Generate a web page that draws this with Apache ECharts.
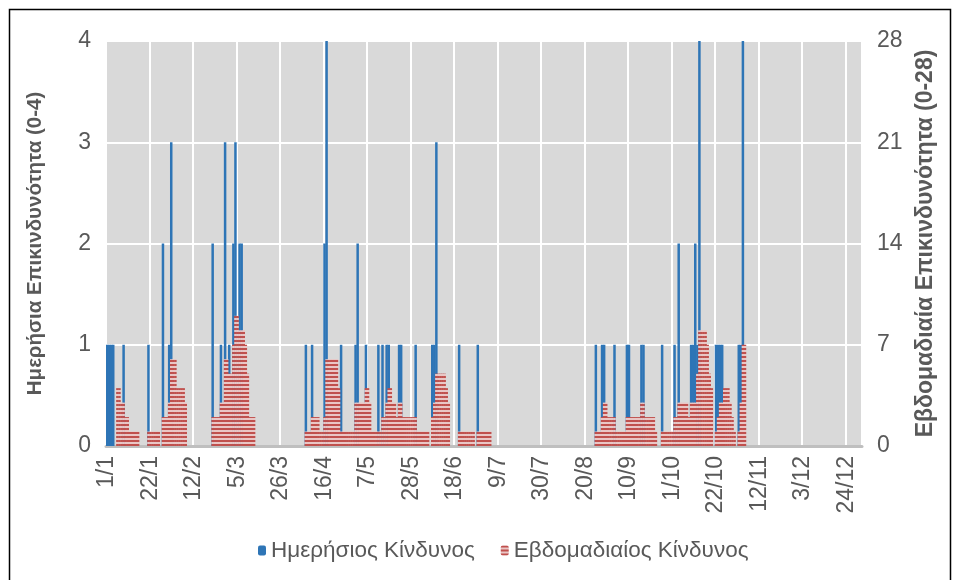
<!DOCTYPE html>
<html>
<head>
<meta charset="utf-8">
<script src="https://cdn.jsdelivr.net/npm/echarts@6/dist/echarts.min.js"></script>
<style>
html,body{margin:0;padding:0;background:#fff;}
#c{width:954px;height:580px;}
</style>
</head>
<body>
<div id="c"></div>
<script>
// Category axis: days of a non-leap year, labelled d/m
const monthLengths = [31,28,31,30,31,30,31,31,30,31,30,31];
const days = [];
monthLengths.forEach(function(n, m){ for (let d = 1; d <= n; d++) days.push(d + '/' + (m + 1)); });

const seriesNames = ['Ημερήσιος Κίνδυνος', 'Εβδομαδιαίος Κίνδυνος'];
const axisTitles = ['Ημερήσια Επικινδυνότητα (0-4)', 'Εβδομαδιαία Επικινδυνότητα (0-28)'];

// Daily risk (0-4), one value per day, 1/1 .. 31/12
const daily = [
1,1,1,1,0,0,0,0,1,0,  0,0,0,0,0,0,0,0,0,0,  1,0,0,0,0,0,0,2,0,0,  1,3,0,0,0,0,0,0,0,0,
0,0,0,0,0,0,0,0,0,0,  0,2,0,0,0,1,0,3,0,1,  0,2,3,0,2,2,0,0,0,0,  0,0,0,0,0,0,0,0,0,0,
0,0,0,0,0,0,0,0,0,0,  0,0,0,0,0,0,1,0,0,1,  0,0,0,0,0,2,4,0,0,0,  0,0,0,1,0,0,0,0,0,0,
1,2,0,0,0,1,0,0,0,0,  0,1,0,1,0,1,1,0,0,0,  0,1,1,0,0,0,0,0,0,1,  0,0,0,0,0,0,0,1,1,3,
0,0,0,0,0,0,0,0,0,0,  1,0,0,0,0,0,0,0,0,1,  0,0,0,0,0,0,0,0,0,0,  0,0,0,0,0,0,0,0,0,0,
0,0,0,0,0,0,0,0,0,0,  0,0,0,0,0,0,0,0,0,0,  0,0,0,0,0,0,0,0,0,0,  0,0,0,0,0,0,1,0,0,1,
1,0,0,0,0,1,0,0,0,0,  0,1,1,0,0,0,0,0,1,1,  0,0,0,0,0,0,0,0,1,0,  0,0,0,0,1,0,2,0,0,0,
0,0,1,1,2,1,4,0,0,0,  0,0,0,0,1,1,1,1,0,0,  0,0,0,0,0,1,1,4,0,0,  0,0,0,0,0,0,0,0,0,0,
0,0,0,0,0,0,0,0,0,0,  0,0,0,0,0,0,0,0,0,0,  0,0,0,0,0,0,0,0,0,0,  0,0,0,0,0,0,0,0,0,0,
0,0,0,0,0,0,0,0,0,0,  0,0,0,0,0,0,0,0,0,0,  0,0,0,0,0
];

// Weekly risk (0-28), one value per day
const weekly = [
0,0,0,0,0,4,4,3,3,2,  2,1,1,1,1,1,0,0,0,0,  1,1,1,1,1,1,0,2,2,2,  3,6,6,6,4,4,4,4,3,0,
0,0,0,0,0,0,0,0,0,0,  0,2,2,2,2,3,3,6,6,5,  5,7,9,9,8,8,8,7,5,2,  2,2,0,0,0,0,0,0,0,0,
0,0,0,0,0,0,0,0,0,0,  0,0,0,0,0,0,1,1,1,2,  2,2,2,1,1,2,6,6,6,6,  6,6,4,1,1,1,1,1,1,1,
3,3,3,3,3,4,4,3,1,1,  1,1,1,2,2,3,4,4,3,3,  2,3,3,2,2,2,2,2,2,2,  1,1,1,1,1,1,0,2,3,5,
5,5,5,5,4,3,0,0,0,0,  1,1,1,1,1,1,1,1,0,1,  1,1,1,1,1,1,0,0,0,0,  0,0,0,0,0,0,0,0,0,0,
0,0,0,0,0,0,0,0,0,0,  0,0,0,0,0,0,0,0,0,0,  0,0,0,0,0,0,0,0,0,0,  0,0,0,0,0,0,1,1,1,2,
3,3,2,2,2,2,1,1,1,1,  1,2,2,2,2,2,2,2,3,3,  2,2,2,2,2,1,0,0,1,1,  1,1,1,1,2,2,3,3,3,3,
3,2,3,3,3,5,8,8,8,8,  7,5,4,0,1,2,3,3,4,4,  4,3,2,1,0,1,3,7,7,0,  0,0,0,0,0,0,0,0,0,0,
0,0,0,0,0,0,0,0,0,0,  0,0,0,0,0,0,0,0,0,0,  0,0,0,0,0,0,0,0,0,0,  0,0,0,0,0,0,0,0,0,0,
0,0,0,0,0,0,0,0,0,0,  0,0,0,0,0,0,0,0,0,0,  0,0,0,0,0
];

// horizontal stripe pattern for the weekly series
const stripe = document.createElement('canvas');
stripe.width = 8; stripe.height = 4;
const sctx = stripe.getContext('2d');
sctx.fillStyle = '#eac6c5'; sctx.fillRect(0, 0, 8, 4);
sctx.fillStyle = '#c0504d'; sctx.fillRect(0, 0, 8, 2);

const txt = '#595959';
const font = 'Liberation Sans, Arial, sans-serif';
const chart = echarts.init(document.getElementById('c'));
chart.setOption({
  animation: false,
  backgroundColor: '#ffffff',
  grid: {left: 106, right: 92, top: 41, bottom: 134, show: true, backgroundColor: '#d9d9d9', borderWidth: 0},
  legend: {
    bottom: 13, left: 253, itemWidth: 8, itemHeight: 10, itemGap: 26,
    textStyle: {color: txt, fontSize: 22.5, fontFamily: font},
    data: seriesNames
  },
  xAxis: {
    type: 'category', data: days, boundaryGap: true,
    axisLine: {lineStyle: {color: '#bfbfbf', width: 3}},
    axisTick: {interval: 20, length: 6, lineStyle: {color: '#bfbfbf', width: 2}},
    axisLabel: {interval: 20, rotate: 90, color: txt, fontSize: 23, fontFamily: font, margin: 10},
    splitLine: {show: true, interval: 20, lineStyle: {color: '#ffffff', width: 2}}
  },
  yAxis: [
    {
      type: 'value', min: 0, max: 4, interval: 1,
      axisLine: {show: false}, axisTick: {show: false},
      axisLabel: {color: txt, fontSize: 23, fontFamily: font, margin: 15},
      splitLine: {show: true, lineStyle: {color: '#ffffff', width: 2}},
      name: axisTitles[0], nameLocation: 'middle', nameGap: 60, nameRotate: 90,
      nameTextStyle: {color: txt, fontSize: 20.5, fontWeight: 'bold', fontFamily: font}
    },
    {
      type: 'value', min: 0, max: 28, interval: 7, position: 'right',
      axisLine: {show: false}, axisTick: {show: false},
      axisLabel: {color: txt, fontSize: 23, fontFamily: font, margin: 15},
      splitLine: {show: false},
      name: axisTitles[1], nameLocation: 'middle', nameGap: 52, nameRotate: 90,
      nameTextStyle: {color: txt, fontSize: 23, fontWeight: 'bold', fontFamily: font}
    }
  ],
  series: [
    {
      name: seriesNames[0], type: 'bar', yAxisIndex: 0, data: daily,
      barWidth: 2.5, barGap: '-100%',
      itemStyle: {color: '#2e75b6'}
    },
    {
      name: seriesNames[1], type: 'bar', yAxisIndex: 1, data: weekly,
      barWidth: 2.5, barGap: '-100%',
      itemStyle: {color: {image: stripe, repeat: 'repeat'}}
    }
  ],
  graphic: [{
    type: 'rect', shape: {x: 9.5, y: 9.5, width: 941, height: 600},
    style: {fill: 'none', stroke: '#000000', lineWidth: 1.5}, silent: true
  }]
});
</script>
</body>
</html>
